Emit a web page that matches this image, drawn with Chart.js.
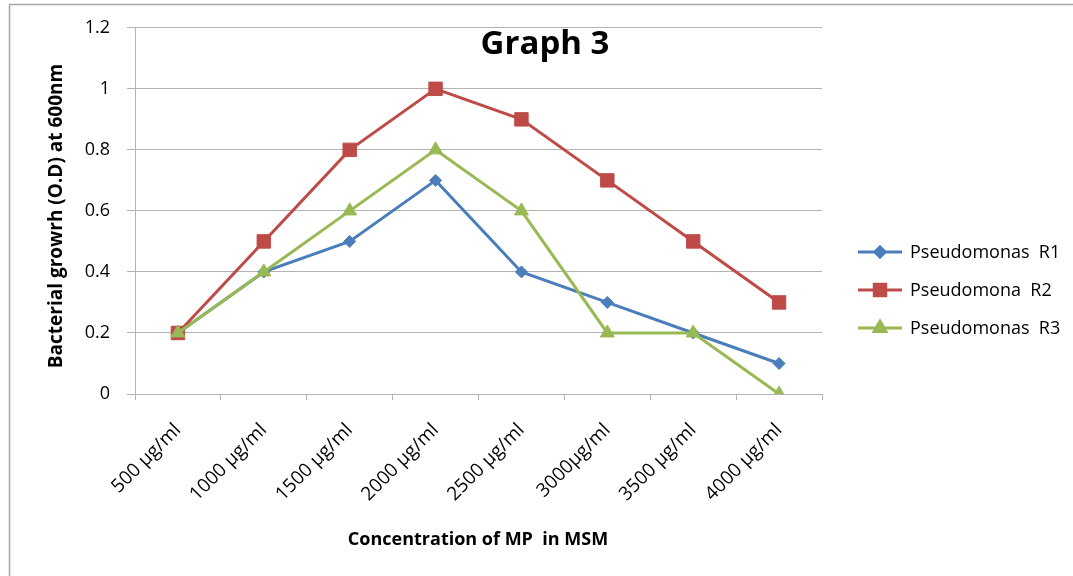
<!DOCTYPE html>
<html>
<head>
<meta charset="utf-8">
<script src="https://cdn.jsdelivr.net/npm/chart.js@4"></script>
<style>
  html, body { margin: 0; padding: 0; background: #ffffff; }
  #wrap { width: 1073px; height: 576px; position: relative; }
</style>
</head>
<body>
<div id="wrap"><canvas id="c" width="1073" height="576"></canvas></div>
<script>
// Concentrations tested (x categories)
const categories = ['500 µg/ml', '1000 µg/ml', '1500 µg/ml', '2000 µg/ml', '2500 µg/ml', '3000µg/ml', '3500 µg/ml', '4000 µg/ml'];
// Optical density readings for each strain
const seriesNames = ['Pseudomonas  R1', 'Pseudomona  R2', 'Pseudomonas  R3'];
const r1Values = [0.2, 0.4, 0.5, 0.7, 0.4, 0.3, 0.2, 0.1];
const r2Values = [0.2, 0.5, 0.8, 1.0, 0.9, 0.7, 0.5, 0.3];
const r3Values = [0.2, 0.4, 0.6, 0.8, 0.6, 0.2, 0.2, 0.0];
const yTicks = [0, 0.2, 0.4, 0.6, 0.8, 1, 1.2];

const chartTitle = 'Graph 3';
const xTitle = 'Concentration of MP  in MSM';
const yTitle = 'Bacterial growrh (O.D) at 600nm';

const FONT = "'Open Sans', 'DejaVu Sans', sans-serif";
const GRID = '#b3b3b3';

const PLOT_LEFT = 135, PLOT_RIGHT = 822, PLOT_TOP = 27, PLOT_BOTTOM = 394;
const W = 1073, H = 576;

// Frame, titles and the line+marker legend drawn around the plot
const decorations = {
  id: 'decorations',
  beforeDraw(chart) {
    const ctx = chart.ctx;
    ctx.save();
    ctx.fillStyle = '#ffffff';
    ctx.fillRect(0, 0, W, H);
    ctx.strokeStyle = '#a6a6a6';
    ctx.lineWidth = 1.5;
    ctx.strokeRect(9.5, 4.5, W + 20, H + 20);
    ctx.restore();
  },
  afterDraw(chart) {
    const ctx = chart.ctx;
    ctx.save();
    ctx.fillStyle = '#000000';
    ctx.textAlign = 'center';
    ctx.textBaseline = 'middle';

    ctx.font = `bold 33px ${FONT}`;
    ctx.fillText(chartTitle, 545, 45);

    ctx.font = `bold 18px ${FONT}`;
    ctx.fillText(xTitle, 478, 540);

    ctx.save();
    ctx.translate(57, 216);
    ctx.rotate(-Math.PI / 2);
    ctx.font = `bold 19px ${FONT}`;
    ctx.fillText(yTitle, 0, 0);
    ctx.restore();

    // legend
    const ys = [252, 290, 328];
    chart.data.datasets.forEach((ds, i) => {
      const y = ys[i];
      ctx.strokeStyle = ds.borderColor;
      ctx.lineWidth = 3;
      ctx.beginPath();
      ctx.moveTo(858, y);
      ctx.lineTo(902, y);
      ctx.stroke();
      ctx.fillStyle = ds.pointBackgroundColor;
      ctx.strokeStyle = ds.pointBorderColor;
      Chart.helpers.drawPoint(ctx, {
        pointStyle: ds.pointStyle,
        radius: ds.pointRadius * 0.85,
        borderWidth: 1,
        rotation: 0
      }, 880, y);
      ctx.fillStyle = '#000000';
      ctx.textAlign = 'left';
      ctx.font = `18px ${FONT}`;
      ctx.fillText(seriesNames[i], 910, y + 1);
    });
    ctx.restore();
  }
};

const blue = '#4a7ebb', red = '#be4b48', green = '#98b954';

function series(label, data, color, style, radius, order) {
  return {
    label, data, order,
    borderColor: color,
    backgroundColor: color,
    pointBackgroundColor: color,
    pointBorderColor: color,
    pointStyle: style,
    pointRadius: radius,
    pointHoverRadius: radius,
    pointBorderWidth: 1,
    borderWidth: 3,
    tension: 0,
    fill: false
  };
}

new Chart(document.getElementById('c'), {
  type: 'line',
  data: {
    labels: categories,
    datasets: [
      series(seriesNames[0], r1Values, blue, 'rectRot', 6, 3),
      series(seriesNames[1], r2Values, red, 'rect', 9.5, 2),
      series(seriesNames[2], r3Values, green, 'triangle', 8, 1)
    ]
  },
  options: {
    responsive: false,
    animation: false,
    devicePixelRatio: 1,
    layout: { padding: { left: 0, top: PLOT_TOP, right: W - PLOT_RIGHT, bottom: 0 } },
    plugins: { legend: { display: false }, title: { display: false }, tooltip: { enabled: false } },
    scales: {
      x: {
        type: 'category',
        offset: true,
        grid: {
          offset: true,
          drawOnChartArea: false,
          drawTicks: true,
          tickLength: 6,
          color: GRID,
          lineWidth: 1
        },
        border: { display: true, color: GRID, width: 1 },
        ticks: {
          minRotation: 45,
          maxRotation: 45,
          autoSkip: false,
          padding: 19,
          color: '#000000',
          font: { family: FONT, size: 19 }
        },
        afterFit(scale) { scale.height = H - PLOT_BOTTOM; }
      },
      y: {
        min: 0,
        max: 1.2,
        afterBuildTicks(scale) { scale.ticks = yTicks.map(v => ({ value: v })); },
        grid: {
          color: GRID,
          lineWidth: 1,
          drawTicks: true,
          tickLength: 8
        },
        border: { display: true, color: GRID, width: 1 },
        ticks: {
          padding: 17,
          color: '#000000',
          font: { family: FONT, size: 18 },
          callback: v => String(Math.round(v * 10) / 10)
        },
        afterFit(scale) { scale.width = PLOT_LEFT; }
      }
    }
  },
  plugins: [decorations]
});
</script>
</body>
</html>
